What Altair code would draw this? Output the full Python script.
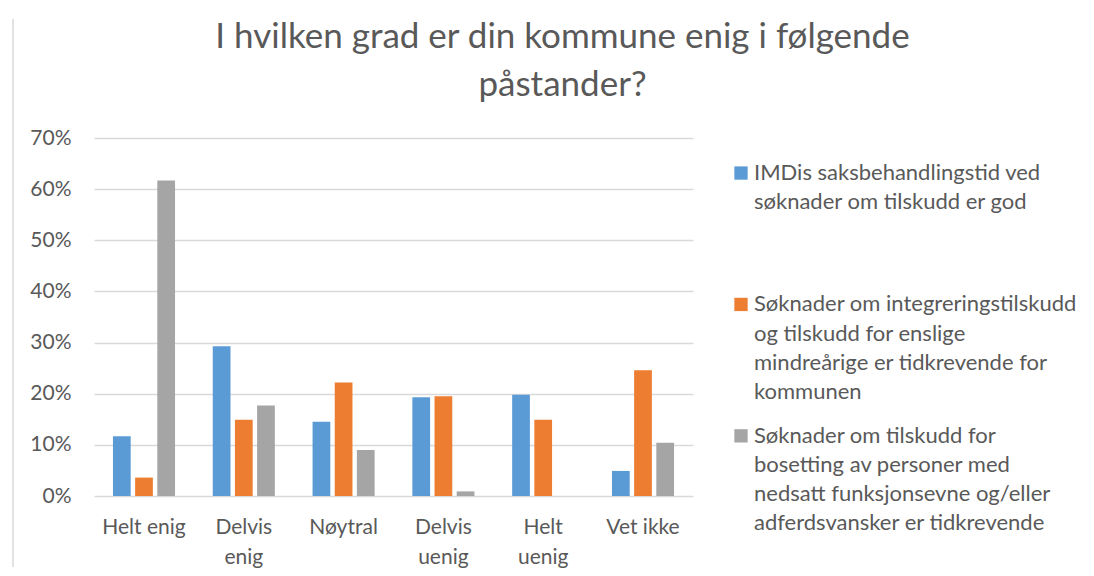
import altair as alt
import pandas as pd

categories = ["Helt enig", "Delvis enig", "Nøytral", "Delvis uenig", "Helt uenig", "Vet ikke"]
wrapped = ["Delvis enig", "Delvis uenig", "Helt uenig"]

legend_lines = [
    ["IMDis saksbehandlingstid ved", "søknader om tilskudd er god"],
    ["Søknader om integreringstilskudd", "og tilskudd for enslige",
     "mindreårige er tidkrevende for", "kommunen"],
    ["Søknader om tilskudd for", "bosetting av personer med",
     "nedsatt funksjonsevne og/eller", "adferdsvansker er tidkrevende"],
]
series = [" ".join(l) for l in legend_lines]

s1 = [11.7, 29.3, 14.5, 19.3, 19.8, 4.9]
s2 = [3.6, 14.9, 22.2, 19.5, 14.9, 24.6]
s3 = [61.7, 17.7, 9.0, 0.9, 0.0, 10.4]
colors = ["#5b9bd5", "#ed7d31", "#a5a5a5"]

rows = []
for name, vals in zip(series, [s1, s2, s3]):
    for c, v in zip(categories, vals):
        rows.append({"cat": c, "series": name, "value": v / 100})
df = pd.DataFrame(rows)

leg_rows = []
for i, (name, lines) in enumerate(zip(series, legend_lines)):
    for j, t in enumerate(lines):
        leg_rows.append({"series": name, "text": t, "slot": i * 4.5 + j, "first": j == 0})
ldf = pd.DataFrame(leg_rows)

TXT = "#595959"
GRID = "#d9d9d9"
W, H = 599, 358

color_scale = alt.Scale(domain=series, range=colors)

label_expr = "indexof(" + str(wrapped).replace("'", '"') + ", datum.label) >= 0 ? split(datum.label, ' ') : datum.label"

bars = alt.Chart(df).mark_bar().encode(
    x=alt.X("cat:N", sort=categories,
            scale=alt.Scale(paddingInner=0.378, paddingOuter=0.19),
            axis=alt.Axis(title=None, labelAngle=0, ticks=False, domain=False,
                          labelPadding=20, labelFontSize=21, labelColor=TXT,
                          labelLineHeight=30, labelExpr=label_expr, labelLimit=200)),
    xOffset=alt.XOffset("series:N", sort=series, scale=alt.Scale(paddingInner=0.2)),
    y=alt.Y("value:Q", scale=alt.Scale(domain=[0, 0.7], nice=False),
            axis=alt.Axis(title=None, format=".0%", values=[0, 0.1, 0.2, 0.3, 0.4, 0.5, 0.6, 0.7],
                          ticks=False, domain=False, labelPadding=23, labelFontSize=21,
                          labelColor=TXT, gridColor=GRID, gridWidth=1.3)),
    color=alt.Color("series:N", scale=color_scale, legend=None),
)

border = alt.Chart(pd.DataFrame({"a": [0]})).mark_rule(color=GRID, strokeWidth=1.5).encode(
    x=alt.value(-81), y=alt.value(-119), y2=alt.value(429)
)

main = alt.layer(border, bars).properties(
    width=W, height=H,
    title=alt.TitleParams(
        ["I hvilken grad er din kommune enig i følgende", "påstander?"],
        anchor="middle", frame="group", dx=169, fontSize=35, fontWeight="normal", color=TXT,
        lineHeight=48, offset=-85, font="Lato",
    ),
)

lscale = alt.Scale(domain=[-1.2, 11.06], reverse=True, nice=False, zero=False)
squares = alt.Chart(ldf).transform_filter("datum.first").mark_square(size=177, opacity=1).encode(
    x=alt.value(7),
    y=alt.Y("slot:Q", scale=lscale, axis=None),
    color=alt.Color("series:N", scale=color_scale, legend=None),
)
texts = alt.Chart(ldf).mark_text(align="left", baseline="middle", fontSize=22, color=TXT).encode(
    x=alt.value(20),
    y=alt.Y("slot:Q", scale=lscale, axis=None),
    text="text:N",
)
legend = alt.layer(squares, texts).properties(width=296, height=H)

chart = alt.hconcat(main, legend, spacing=41, bounds="flush").properties(
    padding={"left": 4, "top": 10, "right": 0, "bottom": 0},
).configure(font="Lato").configure_view(stroke=None)

chart.save("out.html", embed_options={"renderer": "svg", "actions": False})
